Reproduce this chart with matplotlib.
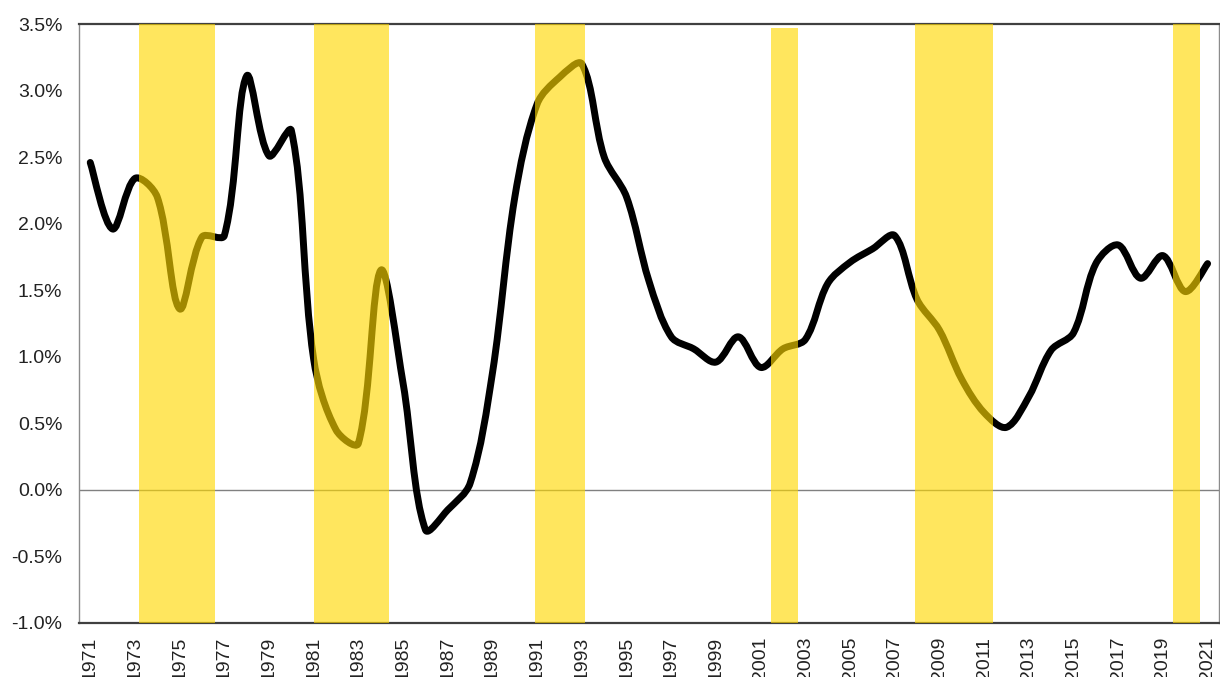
import numpy as np
import matplotlib
matplotlib.use("Agg")
import matplotlib.pyplot as plt
from matplotlib.path import Path
from matplotlib.patches import PathPatch
from matplotlib.ticker import FuncFormatter

plt.rcParams['font.family'] = ['Liberation Sans', 'DejaVu Sans']

years = list(range(1971, 2022))
values = [2.46, 1.96, 2.34, 2.20, 1.36, 1.90, 1.91, 3.11, 2.51, 2.70,
          0.98, 0.45, 0.35, 1.65, 0.80, -0.30, -0.15, 0.05, 0.88, 2.20,
          2.90, 3.10, 3.20, 2.50, 2.20, 1.57, 1.15, 1.06, 0.96, 1.15,
          0.92, 1.06, 1.13, 1.55, 1.71, 1.81, 1.91, 1.43, 1.20, 0.83,
          0.58, 0.47, 0.70, 1.05, 1.18, 1.70, 1.84, 1.59, 1.76, 1.49,
          1.70]

# shaded periods (start, end, top)
rec_start = [1973.2, 1981.0, 1990.9, 2001.47, 2007.92, 2019.46]
rec_end = [1976.6, 1984.35, 1993.16, 2002.67, 2011.38, 2020.67]
rec_top = [3.5, 3.5, 3.5, 3.47, 3.5, 3.5]

fig = plt.figure(figsize=(12.2, 6.77), dpi=100)
ax = fig.add_axes([0.0648, 0.0798, 0.9342, 0.8847])

# smoothed line: bezier, handle length split by neighbouring segment lengths
x = np.array(years, dtype=float)
y = np.array(values)
sy = 6.0  # about px per 1% over px per year, so lengths match the screen
n = len(x)
seg = np.hypot(np.diff(x), np.diff(y) * sy)
c_in = [None] * n
c_out = [None] * n
for i in range(n):
    a = max(i - 1, 0)
    b = min(i + 1, n - 1)
    dx, dy = x[b] - x[a], y[b] - y[a]
    lp = seg[i - 1] if i > 0 else seg[0]
    ln = seg[i] if i < n - 1 else seg[-1]
    fin = lp / (lp + ln) / 3
    fout = ln / (lp + ln) / 3
    c_in[i] = (x[i] - dx * fin, y[i] - dy * fin)
    c_out[i] = (x[i] + dx * fout, y[i] + dy * fout)
verts = [(x[0], y[0])]
codes = [Path.MOVETO]
for i in range(n - 1):
    verts += [c_out[i], c_in[i + 1], (x[i + 1], y[i + 1])]
    codes += [Path.CURVE4] * 3
ax.add_patch(PathPatch(Path(verts, codes), facecolor='none', edgecolor='black',
                       lw=5, capstyle='round', joinstyle='round', zorder=2))

ax.axhline(0, color='#808080', lw=1, zorder=1)

for s, e, t in zip(rec_start, rec_end, rec_top):
    ax.bar(s, t + 1.0, width=e - s, bottom=-1.0, align='edge',
           color='#FFD800', alpha=0.63, lw=0, zorder=3, clip_on=False)

ax.set_xlim(1970.5, 2021.5)
ax.set_ylim(-1.0, 3.5)
ax.set_yticks(np.arange(-1.0, 3.51, 0.5))
ax.yaxis.set_major_formatter(FuncFormatter(lambda v, p: f'{v:.1f}%'))
ax.set_xticks(years[::2])
ax.set_xticklabels([str(yr) for yr in years[::2]], rotation=90)
ax.tick_params(axis='both', length=0, labelsize=14, colors='#222222')
ax.tick_params(axis='y', pad=12)
ax.tick_params(axis='x', pad=10)

for side in ['top', 'bottom']:
    ax.spines[side].set_color('#404040')
    ax.spines[side].set_linewidth(1.6)
for side in ['left', 'right']:
    ax.spines[side].set_color('#8c8c8c')
    ax.spines[side].set_linewidth(1.0)

fig.savefig('out.png', dpi=100)
